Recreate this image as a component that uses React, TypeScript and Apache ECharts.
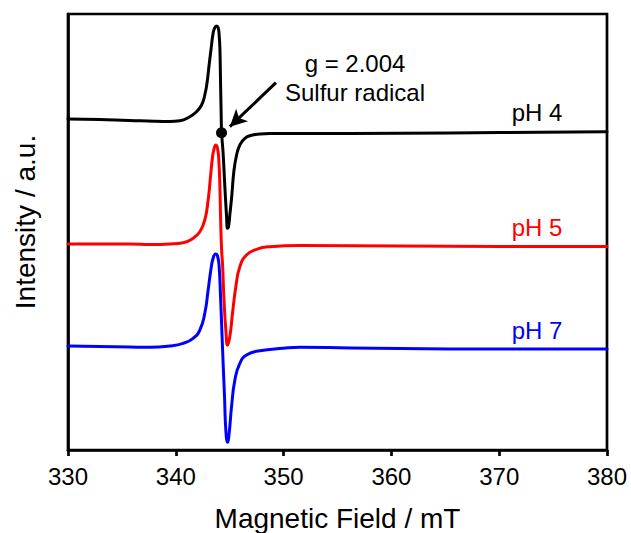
import React, { useEffect, useRef } from "react";
import * as echarts from "echarts";

// Magnetic field (mT) and intensity (a.u.)
const ph4Field = [330.0, 332.94, 335.73, 338.05, 339.44, 340.37, 341.3, 341.92, 342.39, 342.69, 342.91, 343.09, 343.28, 343.46, 343.62, 343.78, 343.93, 344.02, 344.09, 344.15, 344.21, 344.25, 344.39, 344.55, 344.71, 344.8, 344.89, 345.01, 345.2, 345.38, 345.64, 345.94, 346.41, 347.03, 347.8, 348.73, 351.52, 360.8, 370.09, 380.0];
const ph4Intensity = [331, 330.4, 329.5, 328.7, 328.5, 329.2, 333.3, 338.3, 345, 355, 368.3, 385, 401.7, 416.7, 422.3, 424, 422.3, 415, 401.7, 368.3, 335, 317.3, 296.7, 263.3, 233.3, 221.7, 223.3, 235, 255, 278, 295, 305, 311.7, 314.7, 316, 316.5, 316.5, 316.8, 317.5, 318.2];

const ph5Field = [330.0, 332.94, 335.73, 337.59, 339.44, 340.68, 341.61, 342.23, 342.69, 343.0, 343.22, 343.41, 343.56, 343.71, 343.87, 343.99, 344.09, 344.16, 344.25, 344.34, 344.46, 344.64, 344.8, 345.01, 345.26, 345.57, 345.94, 346.56, 347.49, 348.73, 351.52, 360.8, 370.09, 380.0];
const ph5Intensity = [206, 206, 206, 205.5, 206, 207.3, 211.7, 218.3, 230, 250, 273.3, 293.3, 301.7, 305, 301.7, 290, 263.3, 230, 200, 185, 153, 120, 105, 113.3, 136.7, 163.3, 183.3, 195, 200.7, 203.3, 204.5, 204, 203.5, 203.5];

const ph7Field = [330.0, 332.94, 335.73, 337.59, 339.44, 340.68, 341.61, 342.23, 342.69, 343.0, 343.25, 343.46, 343.69, 343.87, 344.02, 344.15, 344.27, 344.39, 344.52, 344.64, 344.8, 344.95, 345.17, 345.48, 345.94, 346.56, 347.8, 349.96, 351.52, 356.16, 360.8, 370.09, 380.0];
const ph7Intensity = [104, 103.5, 103, 102.7, 104, 106.7, 111.7, 120, 136.7, 160, 180, 191.7, 196, 194, 183.3, 153.3, 120, 86.7, 53.3, 20, 7.7, 16.7, 43.3, 70, 86.7, 95, 99.3, 101.7, 102.7, 102, 101.5, 101, 101];

const seriesNames = ["pH 4", "pH 5", "pH 7"];
const seriesColors = ["#000000", "#ff0000", "#0000ff"];
const xTicks = [330, 340, 350, 360, 370, 380];

// annotation: g = 2.004 point and arrow (field, intensity)
const gPoint = [344.24, 317.3];
const arrowFrom = [349.29, 367.3];
const arrowTo = [345.01, 323.3];

const FONT = "'Liberation Sans', Arial, Helvetica, sans-serif";

export default function App() {
  const ref = useRef<HTMLDivElement>(null);
  useEffect(() => {
    if (!ref.current) return;
    const chart = echarts.init(ref.current, undefined, { renderer: "svg" });
    const fields = [ph4Field, ph5Field, ph7Field];
    const ints = [ph4Intensity, ph5Intensity, ph7Intensity];
    const series: any[] = seriesNames.map((name, i) => ({
      name,
      type: "line",
      data: fields[i].map((f, j) => [f, ints[i][j]]),
      showSymbol: false,
      smooth: 0.5,
      lineStyle: { color: seriesColors[i], width: 3, join: "round", cap: "round" },
      itemStyle: { color: seriesColors[i] },
      z: 3 - i,
    }));
    series[0].markPoint = {
      symbol: "circle",
      symbolSize: 11,
      itemStyle: { color: "#000" },
      label: { show: false },
      data: [{ coord: gPoint }],
    };
    series[0].markLine = {
      silent: true,
      symbol: ["none", "arrow"],
      symbolSize: [13, 17],
      lineStyle: { color: "#000", width: 3, type: "solid" },
      label: { show: false },
      data: [[{ coord: arrowFrom }, { coord: arrowTo }]],
    };
    chart.setOption({
      animation: false,
      grid: {
        left: 68,
        right: 24,
        top: 14,
        bottom: 83,
        containLabel: false,
        outerBoundsMode: "none",
        show: true,
        borderColor: "#000",
        borderWidth: 2.7,
      },
      xAxis: {
        type: "value",
        min: xTicks[0],
        max: xTicks[xTicks.length - 1],
        interval: 10,
        name: "Magnetic Field / mT",
        nameLocation: "middle",
        nameGap: 54,
        nameTextStyle: { fontSize: 28, color: "#000", fontFamily: FONT },
        axisLine: { lineStyle: { color: "#000", width: 2.7 } },
        axisTick: { show: true, length: 6, lineStyle: { color: "#000", width: 2.7 } },
        axisLabel: { fontSize: 24, color: "#000", fontFamily: FONT, margin: 14 },
        splitLine: { show: false },
      },
      yAxis: {
        type: "value",
        min: 0,
        max: 436,
        axisLine: { show: true, lineStyle: { color: "#000", width: 2.7 } },
        axisTick: { show: false },
        axisLabel: { show: false },
        splitLine: { show: false },
      },
      graphic: [
        {
          type: "text",
          x: 25,
          y: 222,
          rotation: Math.PI / 2,
          style: {
            text: "Intensity / a.u.",
            fontSize: 28,
            fontFamily: FONT,
            fill: "#000",
            align: "center",
            verticalAlign: "middle",
          },
        },
        {
          type: "text",
          x: 355,
          y: 63,
          style: { text: "g = 2.004", fontSize: 24, fontFamily: FONT, fill: "#000", align: "center", verticalAlign: "middle" },
        },
        {
          type: "text",
          x: 355,
          y: 92,
          style: { text: "Sulfur radical", fontSize: 24, fontFamily: FONT, fill: "#000", align: "center", verticalAlign: "middle" },
        },
        {
          type: "text",
          x: 537,
          y: 112,
          style: { text: seriesNames[0], fontSize: 24, fontFamily: FONT, fill: seriesColors[0], align: "center", verticalAlign: "middle" },
        },
        {
          type: "text",
          x: 537,
          y: 227,
          style: { text: seriesNames[1], fontSize: 24, fontFamily: FONT, fill: seriesColors[1], align: "center", verticalAlign: "middle" },
        },
        {
          type: "text",
          x: 537,
          y: 330,
          style: { text: seriesNames[2], fontSize: 24, fontFamily: FONT, fill: seriesColors[2], align: "center", verticalAlign: "middle" },
        },
      ],
      series,
    });
    return () => chart.dispose();
  }, []);
  return <div ref={ref} style={{ position: "absolute", left: 0, top: 0, width: 631, height: 533 }} />;
}
